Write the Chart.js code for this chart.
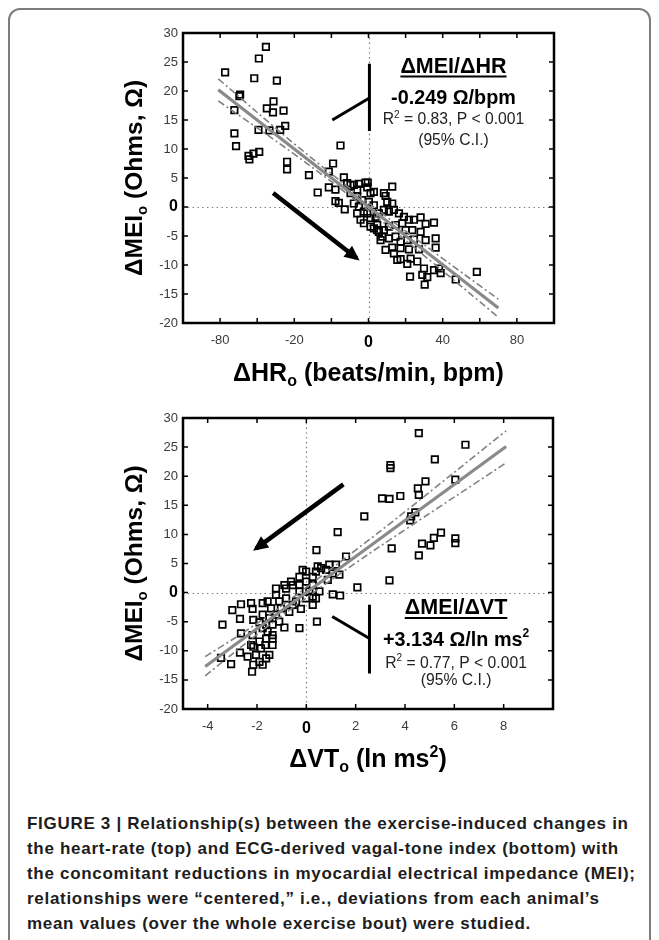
<!DOCTYPE html>
<html lang="en">
<head>
<meta charset="UTF-8">
<title>Figure 3</title>
<script src="https://cdn.jsdelivr.net/npm/chart.js@4.4.0/dist/chart.umd.min.js"></script>
<style>
  html, body { margin: 0; padding: 0; background: #fff; }
  body { width: 659px; height: 940px; position: relative; overflow: hidden; font-family: "Liberation Sans", Arial, sans-serif; }
  #frame { position: absolute; left: 8px; top: 8px; width: 639px; height: 990px; border: 2px solid #7d7d7d; border-radius: 12px; }
  canvas { position: absolute; left: 0; }
  #hr { top: 0; }
  #vt { top: 400px; }
  #caption { position: absolute; left: 27px; top: 811px; font-weight: bold; font-size: 17px; letter-spacing: 0.7px; line-height: 25px; color: #1d1d1d; white-space: nowrap; }
</style>
</head>
<body>
<div id="frame"></div>
<canvas id="hr" width="659" height="400"></canvas>
<canvas id="vt" width="659" height="395"></canvas>
<div id="caption">
FIGURE 3 | Relationship(s) between the exercise-induced changes in<br>
the heart-rate (top) and ECG-derived vagal-tone index (bottom) with<br>
the concomitant reductions in myocardial electrical impedance (MEI);<br>
relationships were “centered,” i.e., deviations from each animal’s<br>
mean values (over the whole exercise bout) were studied.
</div>

<script>
// ---- top panel: delta HR vs delta MEI ----
var hrX = [-77.3,-55.3,-59.1,-61.6,-49.4,-69.2,-69.6,-72.3,-51.2,-54.8,-51.5,-45.8,-44.9,-59.3,-53.4,-47.6,-72.3,-71.4,-64.7,-64.2,-62,-58.9,-43.9,-43.9,
  -15.1,-32.1,-27.4,-19.1,-21.4,-21.4,-17.8,-13.3,-17.8,-16.0,-12.8,
  -11.5,-7.9,-5.2,-1.6,-0.7,2.9,1.1,8.3,9.2,12.8,10.1,12.8,-7.9,-5.2,-6.1,-2.5,-0.7,1.1,3.8,5.6,8.3,11,13.7,16.4,19.1,21.8,24.5,28.1,30.8,35.3,
  2.9,5.6,8.3,11,14.6,18.2,20,23.6,28.1,7.4,11,14.6,17.3,20.9,24.5,30.8,36.2,36.2,9.2,12.8,17.3,21.8,27.2,17.3,20.9,22.7,26.3,29.9,35.3,38,38.9,
  22.4,29,31.7,30.3,47,58.4,-9.7,-6.1,-3.4,0.2,2.9,-4.3,-2.5,1.1,4.7,6.5,13.7,15.5,-9.7,-6.1,-0.4,4.7];
var hrY = [23.2,27.6,25.6,22.2,21.8,19.4,19.1,16.7,18.2,17.0,16.3,16.6,14.0,13.3,13.2,13.3,12.7,10.5,8.8,8.2,9.2,9.5,7.8,6.5,
  10.6,5.5,2.5,7.5,6.1,3.4,3.0,5.1,1.0,0.7,-0.4,
  4.1,3.8,4.0,4.2,3.4,2.6,2.4,2.4,1.9,3.5,0.9,0.6,0.6,0.05,-1.1,-0.8,-1.1,-1.9,-1.7,-1.1,-0.5,-0.8,-0.5,-1.1,-1.7,-2.2,-2.2,-1.8,-2.9,-2.7,
  -3.7,-4.3,-4.0,-3.4,-3.1,-2.8,-4.0,-4.0,-4.3,-5.1,-5.4,-5.1,-6.0,-5.7,-5.6,-5.7,-5.4,-7.0,-7.4,-7.0,-7.1,-7.3,-7.3,-9.0,-9.8,-8.9,-9.4,-10.6,-10.9,-10.6,-11.4,
  -12.0,-11.7,-12.1,-13.4,-12.5,-11.2,2.4,1.8,1.2,0.9,0.3,-2.2,-2.8,-3.4,-3.1,-5.7,-8.0,-9.1,3.8,3.0,4.2,-4.0];
var hrFitX = [-81, 70];
var hrFitY = [20.2, -17.4];
var hrCiX = [-81, -40, 0, 35, 70];
var hrCiHi = [22.1, 10.9, 0.7, -7.7, -15.9];
var hrCiLo = [18.3, 9.1, -0.6, -9.7, -19.0];
var hrTicks = [-80, -60, -40, -20, 0, 20, 40, 60, 80];
var hrLabelAt = [-80, -40, 0, 40, 80];
var hrLabelText = ['-80', '-20', '0', '40', '80'];

// ---- bottom panel: delta VT vs delta MEI ----
var vtX = [4.56,6.45,5.21,3.41,3.41,4.83,6.04,4.52,4.56,3.07,3.37,3.81,2.35,4.25,4.42,4.21,1.27,5.46,5.17,4.69,5.03,6.04,6.04,3.46,4.56,0.41,1.61,3.37,2.07,1.07,1.37,
  0.43,-0.28,0.26,0.26,1.34,1.07,0.87,1.2,0.93,0.6,0.39,0.26,-0.01,-0.28,-0.01,-0.55,-0.82,-0.28,-0.01,-0.22,-0.42,
  -3.4,-3.0,-2.65,-2.69,-2.24,-2.18,-1.77,-2.15,-2.65,-2.18,-1.77,-3.46,-3.05,-2.69,-2.38,-2.15,-2.15,-2.2,-1.9,-1.77,-1.84,-1.5,-1.37,-1.63,-1.37,-0.89,
  -1.5,-1.23,-1.03,-0.69,-0.55,-1.23,-1.23,-0.89,-0.62,-1.57,-1.43,-1.1,-0.82,-1.77,-1.9,-1.63,-1.37,-1.1,-1.57,-1.37,-1.9,-2.24,-1.66,-2.04,-1.63,
  0.26,0.53,0.12,0.39,-0.28,0.8,0.46,-0.15];
var vtY = [27.4,25.4,22.9,21.9,21.4,19.1,19.4,17.9,16.8,16.2,16.1,16.6,13.1,13.1,13.8,12.4,10.4,10.3,9.4,8.4,8.1,9.3,8.5,7.6,6.4,7.3,6.2,2.1,0.9,-0.3,-0.5,
  -5.0,-6.1,-2.1,-0.7,3.1,3.3,2.2,4.8,4.8,4.2,3.6,2.7,3.6,2.7,1.9,1.3,0.7,0.2,-1.0,-2.8,-1.5,
  -5.5,-3.0,-2.0,-4.5,-1.8,-2.8,-1.8,-4.7,-7.0,-7.3,-6.1,-11.2,-12.3,-10.3,-11.0,-9.3,-12.4,-13.6,-11.9,-12.4,-9.6,-10.7,-9.0,-7.9,-7.3,-6.0,
  -4.4,-3.8,-2.7,-3.3,-2.1,0.7,-0.4,1.3,1.9,-1.5,-2.7,-1.5,-1.0,-3.8,-5.1,-5.5,-5.5,-5.0,-6.7,-7.9,-8.4,-9.0,-9.0,-10.7,-11.3,
  1.3,0.2,0.2,-1.0,1.3,3.9,4.5,3.9];
var vtFitX = [-4.1, 8.1];
var vtFitY = [-12.7, 25.1];
var vtCiX = [-4.1, -2, 0, 2, 4, 8.1];
var vtCiHi = [-11.0, -5.3, 0.9, 7.3, 13.9, 27.8];
var vtCiLo = [-14.3, -7.2, -0.9, 5.1, 10.8, 22.3];
var vtTicks = [-4, -2, 0, 2, 4, 6, 8];
var vtLabelAt = vtTicks;
var vtLabelText = ['-4', '-2', '0', '2', '4', '6', '8'];

var meiTicks = [-20, -15, -10, -5, 0, 5, 10, 15, 20, 25, 30];

// annotation text, arrow and bracket (in data units)
var hrNote = ['ΔMEI/ΔHR', '-0.249 Ω/bpm', ' = 0.83, P < 0.001', '(95% C.I.)'];
var hrNoteX = 45.8;
var hrNoteY = [24.5, 19.0, 15.2, 11.7];
var hrArrow = [[-51.4, 2.4], [-6.5, -8.8]];
var hrBracketV = [[0.5, 24.7], [0.5, 13.1]];
var hrBracketD = [[-19.5, 15.0], [0.5, 18.8]];

var vtNote = ['ΔMEI/ΔVT', '+3.134 Ω/ln ms', ' = 0.77, P < 0.001', '(95% C.I.)'];
var vtNoteX = 6.07;
var vtNoteY = [-2.4, -7.9, -11.9, -14.9];
var vtArrow = [[1.5, 18.6], [-2.03, 7.6]];
var vtBracketV = [[2.56, -2.1], [2.56, -13.9]];
var vtBracketD = [[1.05, -4.1], [2.56, -7.9]];

var FAM = '"Liberation Sans", Arial, sans-serif';

function pts(xs, ys) {
  return xs.map(function (x, i) { return { x: x, y: ys[i] }; });
}
function pairs(arr) {
  return arr.map(function (p) { return { x: p[0], y: p[1] }; });
}

// text with sub/superscript pieces, centred on cx
function drawRich(ctx, parts, cx, cy, size, weight) {
  function font(p) { return weight + ' ' + (p[1] ? Math.round(size * 0.62) : size) + 'px ' + FAM; }
  var total = 0;
  parts.forEach(function (p) { ctx.font = font(p); total += ctx.measureText(p[0]).width; });
  var x = cx - total / 2;
  var base = cy + size * 0.36;
  ctx.textAlign = 'left';
  ctx.textBaseline = 'alphabetic';
  parts.forEach(function (p) {
    ctx.font = font(p);
    var dy = p[1] === 'sub' ? size * 0.2 : (p[1] === 'sup' ? -size * 0.42 : 0);
    ctx.fillText(p[0], x, base + dy);
    x += ctx.measureText(p[0]).width;
  });
  return total;
}

var framePlugin = {
  id: 'frame',
  beforeDatasetsDraw: function (chart) {
    var a = chart.chartArea, ctx = chart.ctx;
    var x0 = Math.round(chart.scales.x.getPixelForValue(0)) + 0.5;
    var y0 = Math.round(chart.scales.y.getPixelForValue(0)) + 0.5;
    ctx.save();
    ctx.strokeStyle = '#777';
    ctx.lineWidth = 1.2;
    ctx.setLineDash([1.4, 3.4]);
    ctx.beginPath();
    ctx.moveTo(x0, a.top); ctx.lineTo(x0, a.bottom);
    ctx.moveTo(a.left, y0); ctx.lineTo(a.right, y0);
    ctx.stroke();
    ctx.restore();
  },
  afterDatasetsDraw: function (chart, args, opts) {
    var a = chart.chartArea, ctx = chart.ctx;
    var xs = chart.scales.x, ys = chart.scales.y;
    ctx.save();
    // arrow heads
    chart.data.datasets.forEach(function (ds, i) {
      if (!ds.arrow) return;
      var el = chart.getDatasetMeta(i).data;
      var p0 = el[0], p1 = el[el.length - 1];
      var dx = p1.x - p0.x, dy = p1.y - p0.y, L = Math.sqrt(dx * dx + dy * dy);
      var ux = dx / L, uy = dy / L;
      var tx = p1.x + ux * 4, ty = p1.y + uy * 4;
      var bx = tx - ux * 15, by = ty - uy * 15;
      ctx.fillStyle = '#000';
      ctx.beginPath();
      ctx.moveTo(tx, ty);
      ctx.lineTo(bx - uy * 7, by + ux * 7);
      ctx.lineTo(bx + uy * 7, by - ux * 7);
      ctx.closePath();
      ctx.fill();
    });
    // box and inward tick marks
    ctx.strokeStyle = '#000';
    ctx.lineWidth = 1.5;
    ctx.beginPath();
    xs.ticks.forEach(function (t) {
      var x = xs.getPixelForValue(t.value);
      ctx.moveTo(x, a.bottom); ctx.lineTo(x, a.bottom - 5);
      ctx.moveTo(x, a.top); ctx.lineTo(x, a.top + 5);
    });
    ys.ticks.forEach(function (t) {
      var y = ys.getPixelForValue(t.value);
      ctx.moveTo(a.left, y); ctx.lineTo(a.left + 5, y);
      ctx.moveTo(a.right, y); ctx.lineTo(a.right - 5, y);
    });
    ctx.stroke();
    ctx.lineWidth = 2.5;
    ctx.strokeRect(a.left, a.top, a.right - a.left, a.bottom - a.top);

    // axis titles
    ctx.fillStyle = '#000';
    drawRich(ctx, opts.xTitle, (a.left + a.right) / 2, a.bottom + 49, 25, 'bold');
    ctx.save();
    ctx.translate(a.left - 50, (a.top + a.bottom) / 2);
    ctx.rotate(-Math.PI / 2);
    drawRich(ctx, opts.yTitle, 0, 0, 24.5, 'bold');
    ctx.restore();

    // slope annotation
    var n = opts.note, cx = xs.getPixelForValue(opts.noteX);
    var yy = opts.noteY.map(function (v) { return ys.getPixelForValue(v); });
    var w = drawRich(ctx, [[n[0]]], cx, yy[0], 21.5, 'bold');
    ctx.lineWidth = 2;
    ctx.beginPath();
    ctx.moveTo(cx - w / 2, yy[0] + 11.5); ctx.lineTo(cx + w / 2, yy[0] + 11.5);
    ctx.stroke();
    drawRich(ctx, opts.line2, cx, yy[1], 19.8, 'bold');
    ctx.fillStyle = '#222';
    drawRich(ctx, [['R'], ['2', 'sup'], [n[2]]], cx, yy[2], 15.7, 'normal');
    drawRich(ctx, [[n[3]]], cx, yy[3], 15.7, 'normal');
    ctx.restore();
  }
};

function tickFont(c) {
  if (c.tick && c.tick.value === 0) return { family: FAM, size: 16, weight: 'bold' };
  return { family: FAM, size: 13 };
}
function tickColor(c) {
  return c.tick && c.tick.value === 0 ? '#000' : '#3a3a3a';
}

function makeChart(id, cfg) {
  var ds = [
    { label: 'fit', data: pts(cfg.fitX, cfg.fitY), showLine: true, borderColor: '#8a8a8a', borderWidth: 3.2, pointRadius: 0, order: 2 },
    { label: 'ci hi', data: pts(cfg.ciX, cfg.ciHi), showLine: true, borderColor: '#808080', borderWidth: 1.6, borderDash: [7, 3, 2, 3], tension: 0.4, pointRadius: 0, order: 3 },
    { label: 'ci lo', data: pts(cfg.ciX, cfg.ciLo), showLine: true, borderColor: '#808080', borderWidth: 1.6, borderDash: [7, 3, 2, 3], tension: 0.4, pointRadius: 0, order: 3 },
    { label: 'obs', data: pts(cfg.x, cfg.y), pointStyle: 'rect', pointRadius: 4.6, borderWidth: 1.7, borderColor: '#000', backgroundColor: 'rgba(255,255,255,0)', showLine: false, order: 4 },
    { label: 'arrow', data: pairs(cfg.arrow), showLine: true, borderColor: '#000', borderWidth: 4.5, pointRadius: 0, arrow: true, order: 1 },
    { label: 'bracket v', data: pairs(cfg.brV), showLine: true, borderColor: '#000', borderWidth: 3, pointRadius: 0, order: 1 },
    { label: 'bracket d', data: pairs(cfg.brD), showLine: true, borderColor: '#000', borderWidth: 3, pointRadius: 0, order: 1 }
  ];
  return new Chart(document.getElementById(id), {
    type: 'scatter',
    data: { datasets: ds },
    options: {
      responsive: false,
      animation: false,
      layout: { padding: cfg.pad },
      plugins: {
        legend: { display: false },
        tooltip: { enabled: false },
        frame: { xTitle: cfg.xTitle, yTitle: cfg.yTitle, note: cfg.note, noteX: cfg.noteX, noteY: cfg.noteY, line2: cfg.line2 }
      },
      scales: {
        x: {
          type: 'linear', min: cfg.xMin, max: cfg.xMax,
          grid: { display: false, drawTicks: false }, border: { display: false },
          afterBuildTicks: function (s) { s.ticks = cfg.ticks.map(function (v) { return { value: v }; }); },
          afterFit: function (s) { s.height = cfg.xH; },
          ticks: {
            autoSkip: false, maxRotation: 0, padding: 10, color: tickColor, font: tickFont,
            callback: function (v) { var i = cfg.labelAt.indexOf(v); return i < 0 ? '' : cfg.labelText[i]; }
          }
        },
        y: {
          type: 'linear', min: -20, max: 30,
          grid: { display: false, drawTicks: false }, border: { display: false },
          afterBuildTicks: function (s) { s.ticks = meiTicks.map(function (v) { return { value: v }; }); },
          afterFit: function (s) { s.width = 183; },
          ticks: { autoSkip: false, padding: 5, color: tickColor, font: tickFont }
        }
      }
    },
    plugins: [framePlugin]
  });
}

makeChart('hr', {
  x: hrX, y: hrY, fitX: hrFitX, fitY: hrFitY, ciX: hrCiX, ciHi: hrCiHi, ciLo: hrCiLo,
  arrow: hrArrow, brV: hrBracketV, brD: hrBracketD,
  xMin: -100, xMax: 100, ticks: hrTicks, labelAt: hrLabelAt, labelText: hrLabelText,
  pad: { left: 0, right: 105, top: 33, bottom: 0 }, xH: 77,
  xTitle: [['ΔHR'], ['o', 'sub'], [' (beats/min, bpm)']],
  yTitle: [['ΔMEI'], ['o', 'sub'], [' (Ohms, Ω)']],
  note: hrNote, noteX: hrNoteX, noteY: hrNoteY, line2: [[hrNote[1]]]
});

makeChart('vt', {
  x: vtX, y: vtY, fitX: vtFitX, fitY: vtFitY, ciX: vtCiX, ciHi: vtCiHi, ciLo: vtCiLo,
  arrow: vtArrow, brV: vtBracketV, brD: vtBracketD,
  xMin: -5, xMax: 10, ticks: vtTicks, labelAt: vtLabelAt, labelText: vtLabelText,
  pad: { left: 0, right: 106, top: 18, bottom: 0 }, xH: 86,
  xTitle: [['ΔVT'], ['o', 'sub'], [' (ln ms'], ['2', 'sup'], [')']],
  yTitle: [['ΔMEI'], ['o', 'sub'], [' (Ohms, Ω)']],
  note: vtNote, noteX: vtNoteX, noteY: vtNoteY, line2: [[vtNote[1]], ['2', 'sup']]
});
</script>
</body>
</html>
